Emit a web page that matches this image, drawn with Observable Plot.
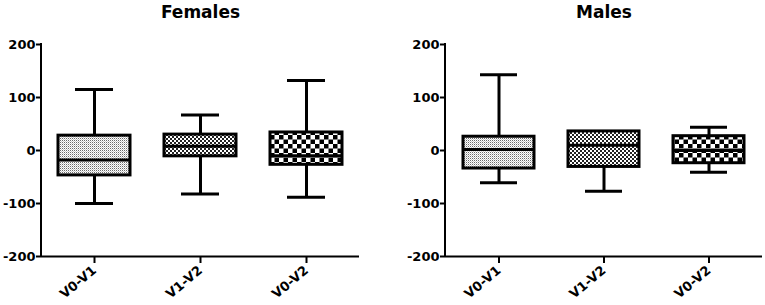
<!DOCTYPE html>
<html>
<head>
<meta charset="utf-8">
<script src="https://cdn.jsdelivr.net/npm/d3@7"></script>
<script src="https://cdn.jsdelivr.net/npm/@observablehq/plot@0.6"></script>
<style>
  html, body { margin: 0; padding: 0; background: #fff; }
  #wrap { display: flex; width: 765px; height: 305px; }
  svg { display: block; }
</style>
</head>
<body>
<div id="wrap"></div>
<script>
// ---- data ----
const categories = ["V0-V1", "V1-V2", "V0-V2"];
const yTicks = [-200, -100, 0, 100, 200];

const femalesMin    = [-100, -82, -88];
const femalesQ1     = [-47, -11, -27];
const femalesMedian = [-18, 8, -10];
const femalesQ3     = [28, 30, 34];
const femalesMax    = [115, 67, 132];

const malesMin    = [-61, -77, -41];
const malesQ1     = [-34, -31, -24];
const malesMedian = [2, 10, 0];
const malesQ3     = [26, 36, 27];
const malesMax    = [143, 36, 44];

const panels = [
  {title: "Females", min: femalesMin, q1: femalesQ1, med: femalesMedian, q3: femalesQ3, max: femalesMax},
  {title: "Males", min: malesMin, q1: malesQ1, med: malesMedian, q3: malesQ3, max: malesMax}
];

// ---- drawing ----
const patternOf = {"V0-V1": "dots", "V1-V2": "fine", "V0-V2": "coarse"};

function addPatterns(svg, prefix) {
  const defs = d3.select(svg).insert("defs", ":first-child");
  // light stipple
  const p1 = defs.append("pattern").attr("id", prefix + "dots")
    .attr("width", 2).attr("height", 2).attr("patternUnits", "userSpaceOnUse");
  p1.append("rect").attr("width", 2).attr("height", 2).attr("fill", "#fff");
  p1.append("rect").attr("width", 1).attr("height", 1).attr("fill", "#6a6a6a");
  p1.append("rect").attr("x", 1).attr("y", 1).attr("width", 1).attr("height", 1).attr("fill", "#c8c8c8");
  // fine checker
  const p2 = defs.append("pattern").attr("id", prefix + "fine")
    .attr("width", 4).attr("height", 4).attr("patternUnits", "userSpaceOnUse");
  p2.append("rect").attr("width", 4).attr("height", 4).attr("fill", "#fff");
  p2.append("rect").attr("width", 2).attr("height", 2).attr("fill", "#222");
  p2.append("rect").attr("x", 2).attr("y", 2).attr("width", 2).attr("height", 2).attr("fill", "#222");
  // coarse checker
  const p3 = defs.append("pattern").attr("id", prefix + "coarse")
    .attr("width", 9).attr("height", 9).attr("patternUnits", "userSpaceOnUse");
  p3.append("rect").attr("width", 9).attr("height", 9).attr("fill", "#fff");
  p3.append("rect").attr("width", 4.5).attr("height", 4.5).attr("fill", "#000");
  p3.append("rect").attr("x", 4.5).attr("y", 4.5).attr("width", 4.5).attr("height", 4.5).attr("fill", "#000");
}

function makePanel(p, idx, width, marginLeft, marginRight) {
  const prefix = "p" + idx + "-";
  const rows = categories.map((c, i) => ({
    cat: c, min: p.min[i], q1: p.q1[i], med: p.med[i], q3: p.q3[i], max: p.max[i]
  }));
  const plot = Plot.plot({
    width, height: 305,
    marginLeft, marginRight, marginTop: 44, marginBottom: 49,
    style: {fontFamily: "DejaVu Sans", fontSize: "13px", fontWeight: "bold", color: "#000", background: "#fff"},
    x: {type: "band", domain: categories, padding: 0, label: null},
    y: {domain: [-200, 200], label: null},
    marks: [
      Plot.ruleX(rows, {x: "cat", y1: "min", y2: "q1", stroke: "#000", strokeWidth: 3}),
      Plot.ruleX(rows, {x: "cat", y1: "q3", y2: "max", stroke: "#000", strokeWidth: 3}),
      Plot.tickY(rows, {x: "cat", y: "min", stroke: "#000", strokeWidth: 3, insetLeft: 34, insetRight: 34}),
      Plot.tickY(rows, {x: "cat", y: "max", stroke: "#000", strokeWidth: 3, insetLeft: 34, insetRight: 34}),
      Plot.barY(rows, {x: "cat", y1: "q1", y2: "q3", insetLeft: 17, insetRight: 17,
        fill: d => `url(#${prefix}${patternOf[d.cat]})`, stroke: "#000", strokeWidth: 3}),
      Plot.tickY(rows, {x: "cat", y: "med", stroke: "#000", strokeWidth: 3, insetLeft: 17, insetRight: 17}),
      Plot.ruleY([-200], {stroke: "#000", strokeWidth: 2}),
      Plot.axisY({ticks: yTicks, tickFormat: d => String(d), tickSize: 5, tickPadding: 1, strokeWidth: 2, fontSize: 13, fontWeight: "bold", label: null}),
      Plot.axisX({tickSize: 7, tickPadding: 5, tickRotate: -40, strokeWidth: 2, fontSize: 13, fontWeight: "bold", label: null}),
      Plot.text([p.title], {text: d => d, frameAnchor: "top", dy: -27, lineAnchor: "bottom", fontSize: 17, fontWeight: "bold", fill: "#000"})
    ],
    color: {type: "identity"}
  });
  addPatterns(plot, prefix);
  const ys = plot.scale("y"), xs = plot.scale("x");
  d3.select(plot).append("line")
    .attr("x1", xs.range[0]).attr("x2", xs.range[0])
    .attr("y1", ys.apply(200) - 1).attr("y2", ys.apply(-200) + 1)
    .attr("stroke", "#000").attr("stroke-width", 2);
  return plot;
}

const wrap = document.getElementById("wrap");
wrap.appendChild(makePanel(panels[0], 0, 382, 41, 23));
wrap.appendChild(makePanel(panels[1], 1, 383, 63, 3));
</script>
</body>
</html>
